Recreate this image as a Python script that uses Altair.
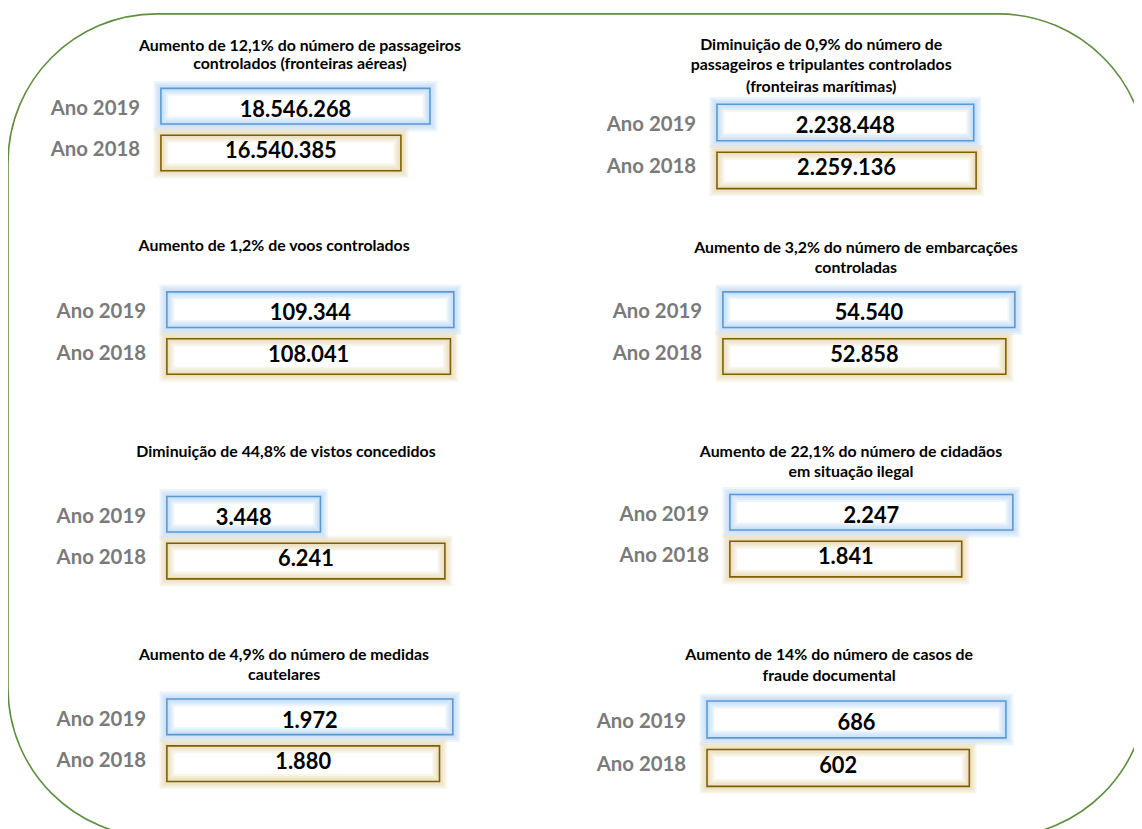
import altair as alt
import pandas as pd

# ---------------- data ----------------
TITLES = [
    ["Aumento de 12,1% do número de passageiros", "controlados (fronteiras aéreas)"],
    ["Diminuição de 0,9% do número de", "passageiros e tripulantes controlados", "(fronteiras marítimas)"],
    ["Aumento de 1,2% de voos controlados"],
    ["Aumento de 3,2% do número de embarcações", "controladas"],
    ["Diminuição de 44,8% de vistos concedidos"],
    ["Aumento de 22,1% do número de cidadãos", "em situação ilegal"],
    ["Aumento de 4,9% do número de medidas", "cautelares"],
    ["Aumento de 14% do número de casos de", "fraude documental"],
]
YEARS = ["Ano 2019", "Ano 2018"]
VALUES_2019 = [18546268, 2238448, 109344, 54540, 3448, 2247, 1972, 686]
VALUES_2018 = [16540385, 2259136, 108041, 52858, 6241, 1841, 1880, 602]

# ---------------- layout (page pixels) ----------------
O = 8  # page margin
LAYOUT = [
    dict(x0=162, xlen=271, y0=86, y1=169, tx=302, ty=[43, 62]),
    dict(x0=722, xlen=261, y0=102, y1=187, tx=827, ty=[42, 63, 85]),
    dict(x0=168, xlen=289, y0=291, y1=374, tx=276, ty=[245]),
    dict(x0=728, xlen=294, y0=291, y1=374, tx=862, ty=[247, 267]),
    dict(x0=168, xlen=280, y0=497, y1=580, tx=288, ty=[452]),
    dict(x0=735, xlen=285, y0=495, y1=578, tx=857, ty=[452, 472]),
    dict(x0=168, xlen=288, y0=701, y1=784, tx=286, ty=[657, 677]),
    dict(x0=712, xlen=301, y0=703, y1=789, tx=835, ty=[657, 678]),
]

FONT = "Lato"
BLUE, GOLD = "#5b9bd5", "#7f6000"
BLUE_GLOW, GOLD_GLOW = "#b9d7f4", "#e6d8b0"
GREEN = "#5e8e3e"
GREY = "#7a7a7a"


def fmt(v):
    return f"{v:,}".replace(",", ".")


layers = []

# outer rounded frame
frame = alt.Chart(pd.DataFrame({"k": [0]})).mark_rect(
    fillOpacity=0, stroke=GREEN, strokeWidth=1.6, cornerRadius=150
).encode(x=alt.value(0), x2=alt.value(1147), y=alt.value(3), y2=alt.value(832))
layers.append(frame)

for i, L in enumerate(LAYOUT):
    vals = [VALUES_2019[i], VALUES_2018[i]]
    df = pd.DataFrame({"year": YEARS, "value": vals, "label": [fmt(v) for v in vals]})
    vmax = max(vals)
    xs = alt.Scale(domain=[0, vmax], range=[L["x0"] - O, L["x0"] - O + L["xlen"]],
                   nice=False, zero=True)
    ys = alt.Scale(domain=YEARS, range=[L["y0"] - O, L["y1"] - O],
                   paddingInner=0.24, paddingOuter=0)
    glow_s = alt.Scale(domain=YEARS, range=[BLUE_GLOW, GOLD_GLOW])
    line_s = alt.Scale(domain=YEARS, range=[BLUE, GOLD])

    base = alt.Chart(df).transform_calculate(zero="0", mid="datum.value / 2")
    X = alt.X("value:Q", scale=xs, axis=None)
    X2 = alt.X2("zero:Q")
    Y = alt.Y("year:N", scale=ys, axis=None)

    layers.append(base.mark_rect(fill="white").encode(x=X, x2=X2, y=Y))
    for w, op in [(15, 0.25), (11, 0.3), (7, 0.35), (3, 0.4)]:
        layers.append(
            base.mark_rect(fillOpacity=0, strokeWidth=w, strokeOpacity=op).encode(
                x=X, x2=X2, y=Y,
                stroke=alt.Stroke("year:N", scale=glow_s, legend=None))
        )
    layers.append(
        base.mark_rect(fillOpacity=0, strokeWidth=1.6).encode(
            x=X, x2=X2, y=Y, stroke=alt.Stroke("year:N", scale=line_s, legend=None))
    )
    layers.append(
        base.mark_text(align="right", baseline="middle", dx=-21, font=FONT,
                       fontSize=20.5, fontWeight="bold", color=GREY).encode(
            x=alt.X("zero:Q", scale=xs, axis=None), y=Y, text="year:N")
    )
    layers.append(
        base.mark_text(align="center", baseline="middle", dy=1, font=FONT,
                       fontSize=22, fontWeight="bold", color="#000000").encode(
            x=alt.X("mid:Q", scale=xs, axis=None), y=Y, text="label:N")
    )
    for line, ty in zip(TITLES[i], L["ty"]):
        layers.append(
            alt.Chart(pd.DataFrame({"k": [0]})).mark_text(
                text=line, align="center", baseline="middle", font=FONT,
                fontSize=16, fontWeight="bold", color="#000000"
            ).encode(x=alt.value(L["tx"] - O), y=alt.value(ty - O))
        )

chart = alt.layer(*layers).resolve_scale(
    x="independent", y="independent", stroke="independent"
).properties(
    width=1134, height=821, padding=0, autosize="none", background="white"
).configure_view(stroke=None)

chart.save("out.html", embed_options={"renderer": "svg", "actions": False})
